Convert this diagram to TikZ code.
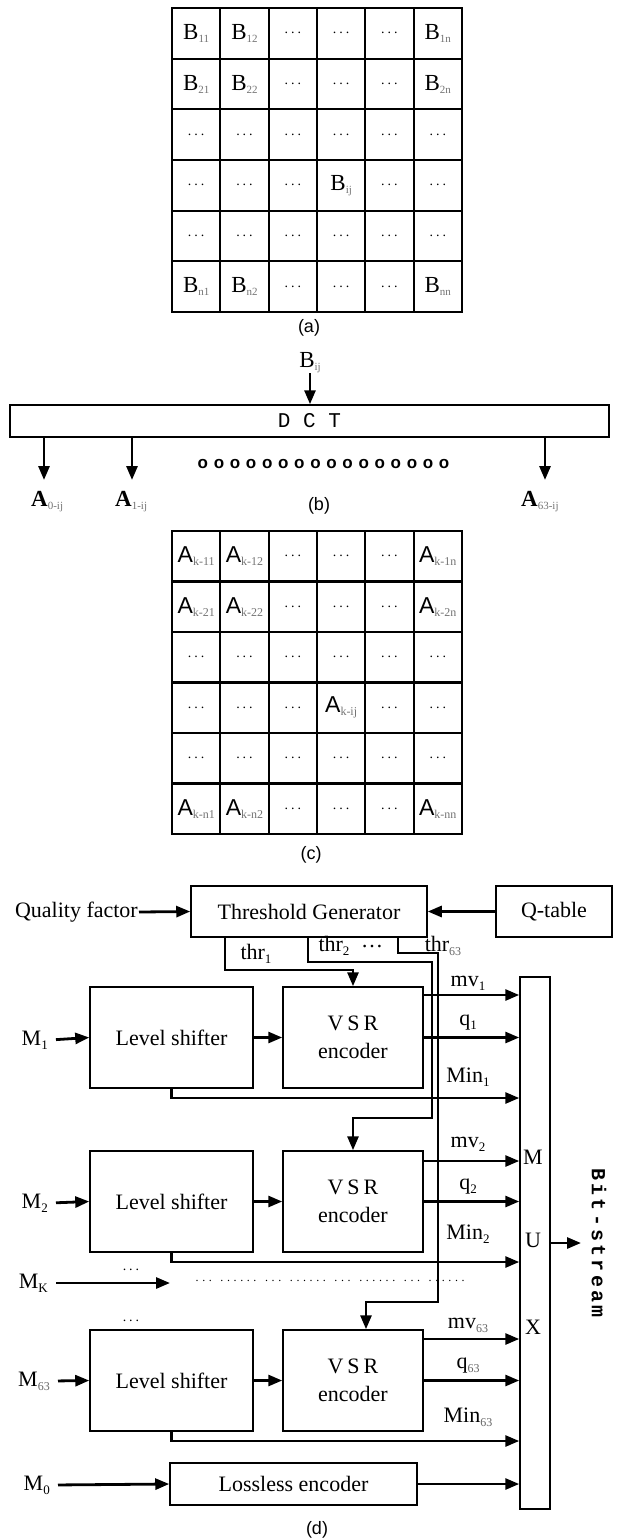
\documentclass[tikz,border=0pt]{standalone}
\usepackage{fontspec}
\setmainfont{Liberation Serif}
\setsansfont{Liberation Sans}
\setmonofont{Liberation Mono}
\usetikzlibrary{arrows.meta,calc}
\newcommand\gsub[1]{\raisebox{-3pt}{\fontsize{11}{11}\selectfont\color{black!55}#1}}
\newcommand\asub[1]{\raisebox{-3pt}{\fontsize{12}{12}\selectfont\color{black!55}#1}}
\newcommand\dsub[1]{\raisebox{-4pt}{\fontsize{13}{13}\selectfont #1}}
\newcommand\gdsub[1]{\raisebox{-4pt}{\fontsize{12}{12}\selectfont\color{black!60}#1}}
\newcommand\Bc[1]{B\gsub{#1}}
\newcommand\Ac[1]{{\sffamily A}\asub{k-#1}}
\newcommand\cdd{{\fontsize{14}{14}\selectfont.\kern3pt.\kern3pt.}}
\newcommand\ring{o\kern5.7pt}
\newcommand\bsk{\kern3.3pt}
\newcommand\gd{.\kern3.6pt}
\newcommand\tdots{\gd\gd\gd}
\newcommand\sdots{\gd\gd\gd\gd\gd\gd}
\tikzset{
  box/.style={draw, line width=1.5pt, inner sep=0pt, align=center},
  arr/.style={line width=2.8pt, -{Triangle[length=14pt,width=11pt]}},
  gline/.style={line width=2.2pt, line cap=rect},
  dtext/.style={font=\fontsize{22}{28}\selectfont},
  lbl/.style={inner sep=2pt, font=\fontsize{22}{26}\selectfont},
  cellt/.style={inner sep=0pt, font=\fontsize{23}{23}\selectfont},
  capt/.style={inner sep=1pt, font=\sffamily\fontsize{18}{18}\selectfont},
}
\begin{document}
\begin{tikzpicture}[x=1pt,y=-1pt]
\useasboundingbox (0,0) rectangle (621,1540);

% ---------------- (a) grid ----------------
\foreach \i in {0,...,6} {
  \draw[gline] ({172+48.33*\i},8) -- ({172+48.33*\i},312);
  \draw[gline] (172,{8+50.67*\i}) -- (462,{8+50.67*\i});
}
\foreach \rowlist [count=\r from 0] in {
  {\Bc{11},\Bc{12},\cdd,\cdd,\cdd,\Bc{1n}},
  {\Bc{21},\Bc{22},\cdd,\cdd,\cdd,\Bc{2n}},
  {\cdd,\cdd,\cdd,\cdd,\cdd,\cdd},
  {\cdd,\cdd,\cdd,\Bc{ij},\cdd,\cdd},
  {\cdd,\cdd,\cdd,\cdd,\cdd,\cdd},
  {\Bc{n1},\Bc{n2},\cdd,\cdd,\cdd,\Bc{nn}}} {
  \foreach \cell [count=\c from 0] in \rowlist {
    \node[cellt] (ga\r\c) at ({172+48.33*\c+24.17},{8+50.67*\r+25.33}) {\cell};
  }
}
\node[capt] (capa) at (309,328) {(a)};

% ---------------- (b) DCT ----------------
\node[cellt] (bij) at (310,363) {B\gsub{ij}};
\node[box, minimum width=599pt, minimum height=32pt,
      font=\ttfamily\fontsize{21}{21}\selectfont] (dct) at (309.5,421) {D C T};
\draw[arr] (bij.south) -- (bij.south |- dct.north);
\coordinate (t0) at (44,480);
\coordinate (t1) at (132,480);
\coordinate (t63) at (545,480);
\draw[arr] (dct.south -| t0) -- (t0);
\draw[arr] (dct.south -| t1) -- (t1);
\draw[arr] (dct.south -| t63) -- (t63);
\node[cellt, anchor=west] (a0) at (31,502) {\textbf{A}\gsub{0-ij}};
\node[cellt, anchor=west] (a1) at (115,502) {\textbf{A}\gsub{1-ij}};
\node[cellt, anchor=west] (a63) at (521,502) {\textbf{A}\gsub{63-ij}};
\node[inner sep=0pt, font=\sffamily\bfseries\fontsize{17}{17}\selectfont] (circ) at (323.5,464)
  {\ring\ring\ring\ring\ring\ring\ring\ring\ring\ring\ring\ring\ring\ring\ring o};
\node[capt] (capb) at (319,506) {(b)};

% ---------------- (c) grid ----------------
\foreach \i in {0,...,6} {
  \draw[gline] ({172+48.33*\i},531) -- ({172+48.33*\i},834);
  \draw[gline] (172,{531+50.5*\i}) -- (462,{531+50.5*\i});
}
\foreach \rowlist [count=\r from 0] in {
  {\Ac{11},\Ac{12},\cdd,\cdd,\cdd,\Ac{1n}},
  {\Ac{21},\Ac{22},\cdd,\cdd,\cdd,\Ac{2n}},
  {\cdd,\cdd,\cdd,\cdd,\cdd,\cdd},
  {\cdd,\cdd,\cdd,\Ac{ij},\cdd,\cdd},
  {\cdd,\cdd,\cdd,\cdd,\cdd,\cdd},
  {\Ac{n1},\Ac{n2},\cdd,\cdd,\cdd,\Ac{nn}}} {
  \foreach \cell [count=\c from 0] in \rowlist {
    \node[cellt] (gc\r\c) at ({172+48.33*\c+24.17},{531+50.5*\r+25.25}) {\cell};
  }
}
\node[capt] (capc) at (311,855) {(c)};

% ---------------- (d) block diagram ----------------
\node[box, dtext, minimum width=236pt, minimum height=51pt] (tg) at (309,911.5) {Threshold Generator};
\node[box, dtext, minimum width=116pt, minimum height=51pt] (qt) at (554,911.5) {Q-table};
\node[lbl, anchor=east, inner sep=1pt] (qf) at (139,912) {Quality factor};
\draw[arr] (qf.east) -- (tg.west);
\draw[arr] (qt.west) -- (tg.east);

\node[box, dtext, minimum width=163pt, minimum height=101pt] (ls1) at (171.5,1037.5) {Level shifter};
\node[box, dtext, minimum width=140pt, minimum height=101pt] (vsr1) at (353,1037.5) {V\kern4pt S\kern4pt R\\encoder};
\node[box, dtext, minimum width=163pt, minimum height=101pt] (ls2) at (171.5,1201.5) {Level shifter};
\node[box, dtext, minimum width=140pt, minimum height=101pt] (vsr2) at (353,1201.5) {V\kern4pt S\kern4pt R\\encoder};
\node[box, dtext, minimum width=163pt, minimum height=101pt] (ls63) at (171.5,1380.5) {Level shifter};
\node[box, dtext, minimum width=140pt, minimum height=101pt] (vsr63) at (353,1380.5) {V\kern4pt S\kern4pt R\\encoder};
\node[box, dtext, minimum width=247pt, minimum height=42pt] (ll) at (293.5,1484) {Lossless encoder};
\node[box, minimum width=30pt, minimum height=532pt] (mux) at (535,1243) {};
\node[lbl] (muxm) at (533,1157) {M};
\node[lbl] (muxu) at (533,1240) {U};
\node[lbl] (muxx) at (533,1327) {X};

% threshold lines
\draw[arr] (tg.south -| 225,0) |- (vsr1.north |- 0,970) -- (vsr1.north);
\draw[arr] (tg.south -| 308,0) |- (432,962) |- (vsr2.north |- 0,1118) -- (vsr2.north);
\draw[arr] (tg.south -| 398,0) |- (438,953) |- (366,1302) -- (vsr63.north -| 366,0);
\node[lbl] (thr1) at (256,954) {thr\dsub{1}};
\node[lbl] (thr2) at (334,946) {thr\dsub{2}};
\node[lbl] (thrd) at (372,946) {\dots};
\node[lbl] (thr63) at (443,946) {thr\gdsub{63}};

% inputs
\node[lbl, anchor=east] (m1) at (50,1040) {M\dsub{1}};
\node[lbl, anchor=east] (m2) at (50,1203) {M\dsub{2}};
\node[lbl, anchor=east] (mk) at (50,1283) {M\dsub{K}};
\node[lbl, anchor=east] (m63) at (52,1381) {M\gdsub{63}};
\node[lbl, anchor=east] (m0) at (52,1485) {M\dsub{0}};
\draw[arr, shorten <=6pt] (m1.east) -- (ls1.west);
\draw[arr, shorten <=6pt] (m2.east) -- (ls2.west);
\draw[arr, shorten <=6pt] (m63.east) -- (ls63.west);
\coordinate (mkend) at (170,1283);
\draw[arr, shorten <=6pt] (mk.east) -- (mkend);
\draw[arr, shorten <=6pt] (m0.east) -- (ll.west);
\node[lbl] (kd1) at (131,1270) {\cdd};
\node[lbl] (kd2) at (131,1321) {\cdd};
\node[inner sep=0pt, font=\fontsize{12}{12}\selectfont] (drow) at (332,1281)
  {\tdots\kern5pt\sdots\kern5pt\tdots\kern5pt\sdots\kern5pt\tdots\kern5pt\sdots\kern5pt\tdots\kern5pt\sdots};

% level shifter -> VSR
\draw[arr] (ls1.east) -- (vsr1.west);
\draw[arr] (ls2.east) -- (vsr2.west);
\draw[arr] (ls63.east) -- (vsr63.west);

% outputs to MUX
\draw[arr] (vsr1.east |- 0,995) -- (mux.west |- 0,995);
\draw[arr] (vsr1.east) -- (mux.west |- vsr1.east);
\draw[arr] (ls1.south) |- (mux.west |- 0,1098);
\draw[arr] (vsr2.east |- 0,1161) -- (mux.west |- 0,1161);
\draw[arr] (vsr2.east) -- (mux.west |- vsr2.east);
\draw[arr] (ls2.south) |- (mux.west |- 0,1262);
\draw[arr] (vsr63.east |- 0,1339) -- (mux.west |- 0,1339);
\draw[arr] (vsr63.east) -- (mux.west |- vsr63.east);
\draw[arr] (ls63.south) |- (mux.west |- 0,1441);
\draw[arr] (ll.east) -- (mux.west |- ll.east);

\node[lbl] (mv1) at (468,983) {mv\dsub{1}};
\node[lbl] (q1) at (468,1023) {q\dsub{1}};
\node[lbl] (min1) at (468,1077) {Min\dsub{1}};
\node[lbl] (mv2) at (468,1144) {mv\dsub{2}};
\node[lbl] (q2) at (468,1187) {q\dsub{2}};
\node[lbl] (min2) at (468,1234) {Min\dsub{2}};
\node[lbl] (mv63) at (468,1325) {mv\gdsub{63}};
\node[lbl] (q63) at (468,1366) {q\gdsub{63}};
\node[lbl] (min63) at (468,1417) {Min\gdsub{63}};

% bit-stream
\coordinate (bsend) at (581,1243);
\draw[arr] (mux.east |- bsend) -- (bsend);
\node[inner sep=0pt, rotate=-90, font=\ttfamily\bfseries\fontsize{20}{20}\selectfont] (bs) at (599,1243)
  {B\bsk i\bsk t\bsk -\bsk s\bsk t\bsk r\bsk e\bsk a\bsk m};

\node[capt] (capd) at (317,1530) {(d)};
\end{tikzpicture}
\end{document}
